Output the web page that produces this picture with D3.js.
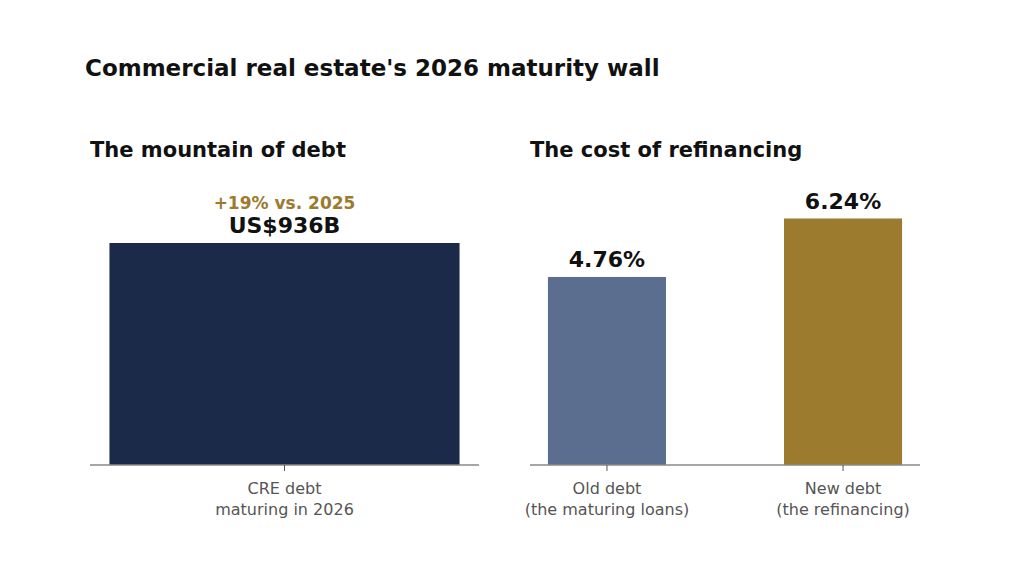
<!DOCTYPE html>
<html><head><meta charset="utf-8">
<script src="https://cdn.jsdelivr.net/npm/d3@7"></script>
<style>body{margin:0;background:#fff}</style>
</head><body>
<svg id="chart" width="1024" height="576"></svg>
<script>
// data
var debtCats = ["CRE debt\nmaturing in 2026"];
var debtVals = [936];
var debtLabels = ["US$936B"];
var rateCats = ["Old debt\n(the maturing loans)", "New debt\n(the refinancing)"];
var rateVals = [4.76, 6.24];
var rateLabels = ["4.76%", "6.24%"];
var rateColors = ["#5b6e8f", "#9c7a2e"];

var svg = d3.select("#chart");
var font = "DejaVu Sans, sans-serif";
var baseY = 465;

svg.append("text").attr("x", 85).attr("y", 76).attr("font-family", font)
    .attr("font-weight", "bold").attr("font-size", 23).attr("fill", "#111")
    .text("Commercial real estate's 2026 maturity wall");

/** 畫一個面板 */
function panel(x0, x1, title, cats, vals, maxV, topY, colors, labels, po, pi) {
    svg.append("text").attr("x", x0).attr("y", 157).attr("font-family", font)
        .attr("font-weight", "bold").attr("font-size", 21).attr("fill", "#111").text(title);
    var x = d3.scaleBand().domain(cats).range([x0, x1]).paddingInner(pi).paddingOuter(po);
    var y = d3.scaleLinear().domain([0, maxV]).range([baseY, topY]);
    var g = svg.append("g");
    g.selectAll("rect").data(vals).enter().append("rect")
        .attr("x", function (d, i) { return x(cats[i]); })
        .attr("width", x.bandwidth())
        .attr("y", function (d) { return y(d); })
        .attr("height", function (d) { return baseY - y(d); })
        .attr("fill", function (d, i) { return colors[i]; });
    g.selectAll("text.v").data(vals).enter().append("text").attr("class", "v")
        .attr("x", function (d, i) { return x(cats[i]) + x.bandwidth() / 2; })
        .attr("y", function (d) { return y(d) - 10; })
        .attr("text-anchor", "middle").attr("font-family", font).attr("font-weight", "bold")
        .attr("font-size", 22).attr("fill", "#111")
        .text(function (d, i) { return labels[i]; });
    var ax = svg.append("g").attr("transform", "translate(0," + baseY + ")")
        .call(d3.axisBottom(x).tickSize(6).tickFormat(""));
    ax.select(".domain").attr("stroke", "#888").attr("stroke-width", 1.3).attr("d", "M" + x0 + ",0H" + x1);
    ax.selectAll(".tick line").attr("stroke", "#555");
    ax.selectAll(".tick").each(function (c) {
        var lines = c.split("\n");
        var t = d3.select(this).append("text").attr("fill", "#555").attr("font-family", font)
            .attr("font-size", 16).attr("text-anchor", "middle");
        lines.forEach(function (l, k) {
            t.append("tspan").attr("x", 0).attr("y", 29 + k * 21).text(l);
        });
    });
    return { x: x, y: y };
}

var left = panel(90, 479, "The mountain of debt", debtCats, debtVals, 936, 243,
    ["#1c2a4a"], debtLabels, 0.045, 0.1);
svg.append("text").attr("x", left.x(debtCats[0]) + left.x.bandwidth() / 2)
    .attr("y", left.y(debtVals[0]) - 34).attr("text-anchor", "middle")
    .attr("font-family", font).attr("font-weight", "bold").attr("font-size", 17)
    .attr("fill", "#9c7a2e").text("+19% vs. 2025");

panel(530, 920, "The cost of refinancing", rateCats, rateVals, 6.24, 218.5,
    rateColors, rateLabels, 0.076, 0.5);
</script>
</body></html>
